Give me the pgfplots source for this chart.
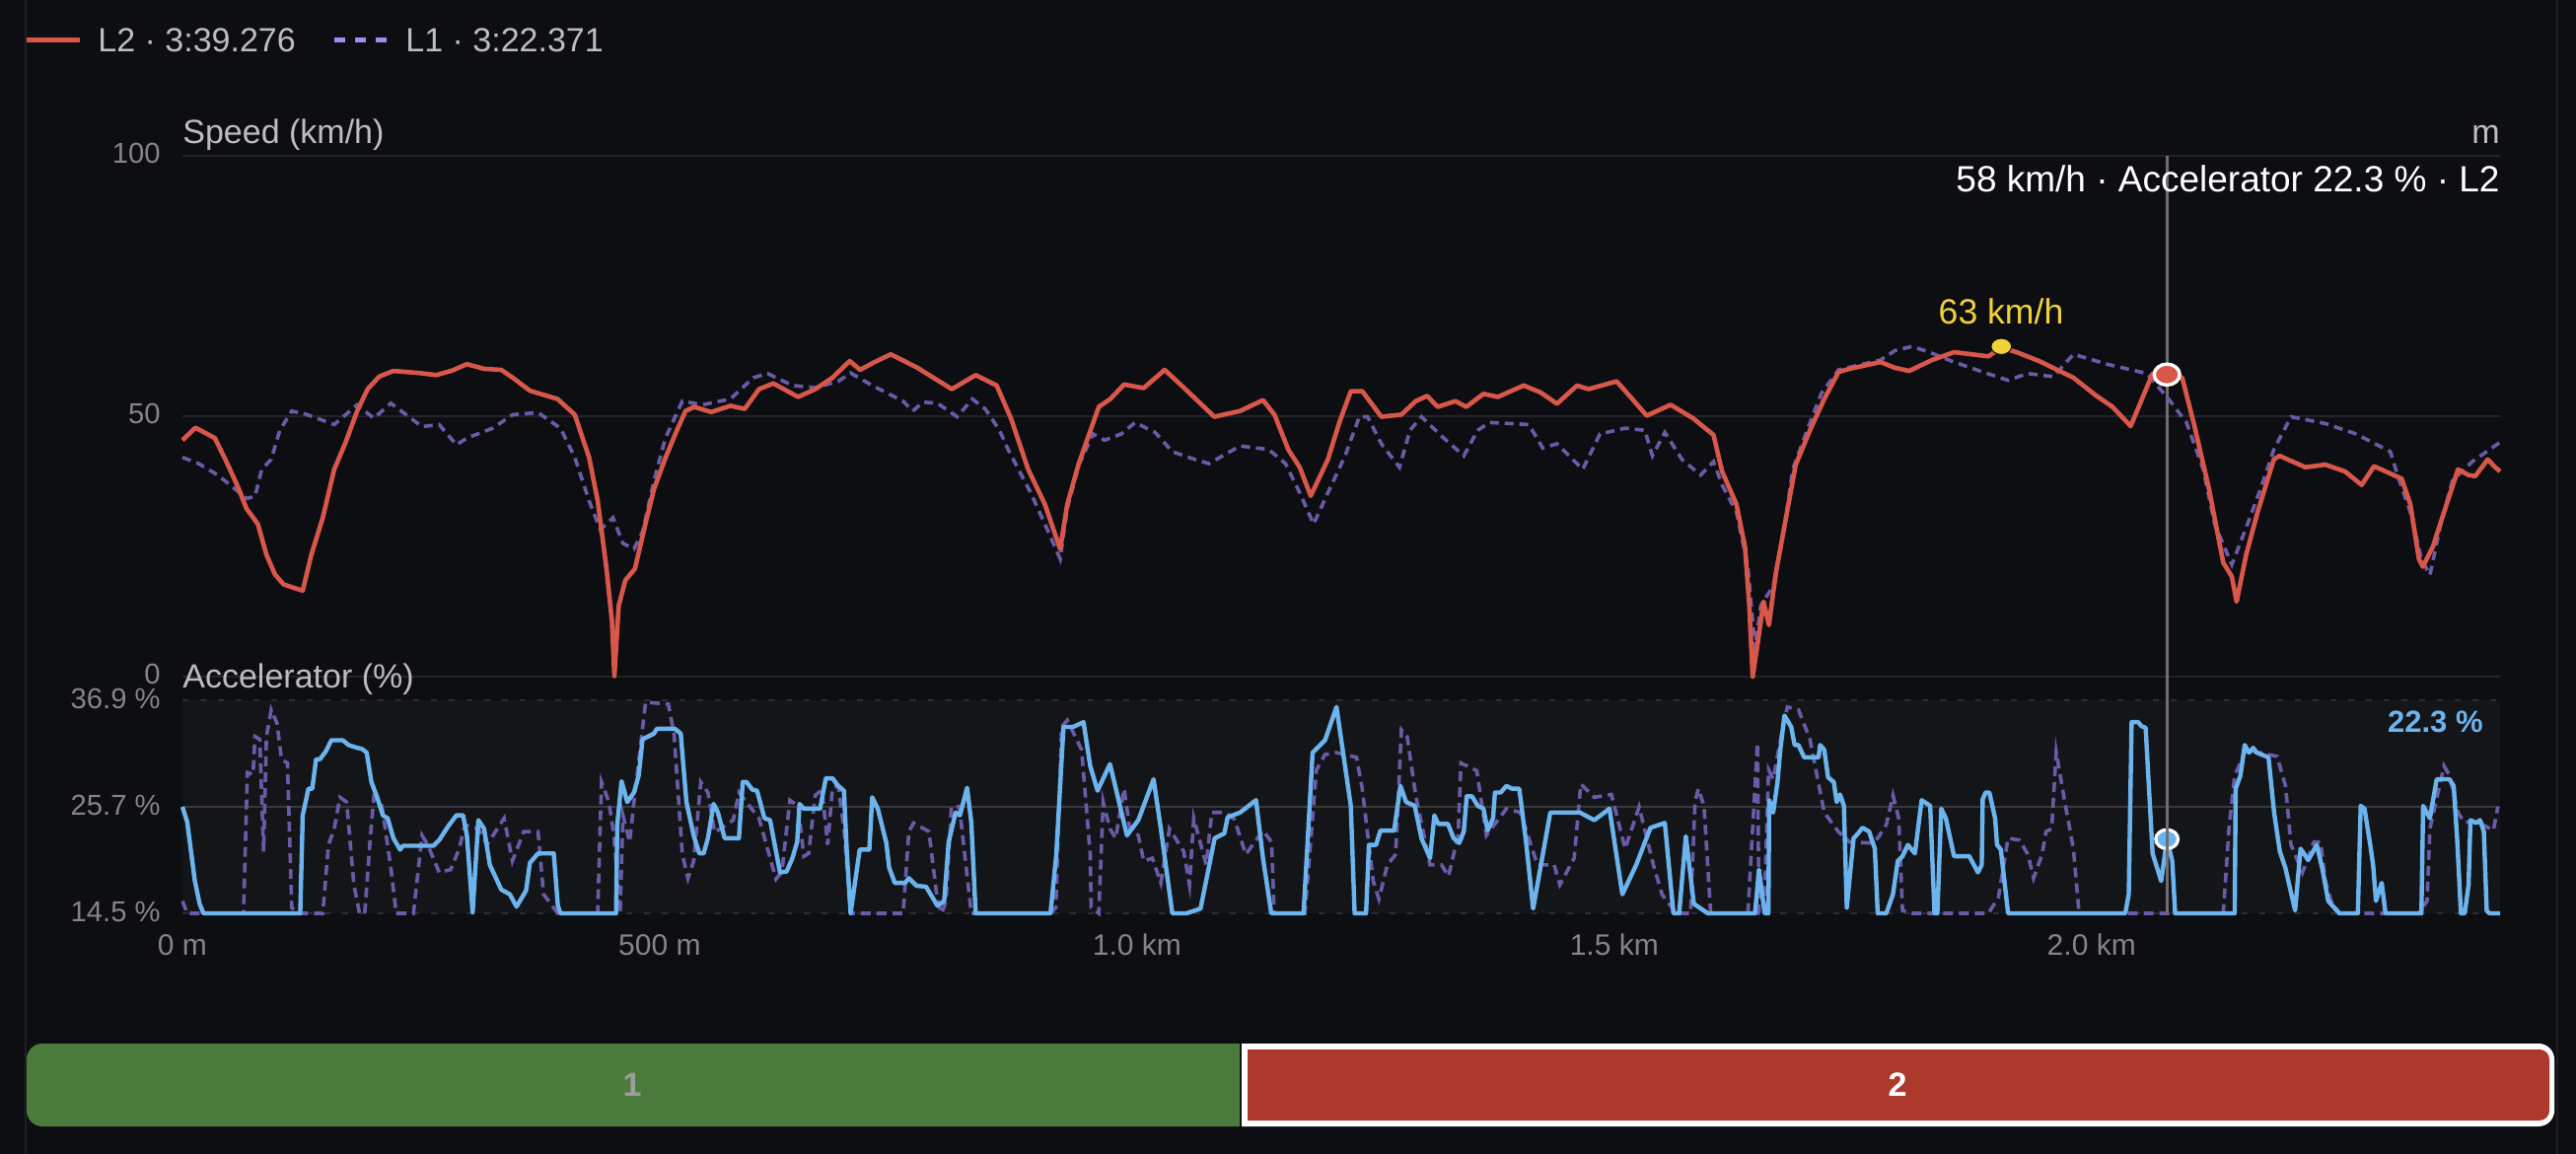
\documentclass[border=0pt]{standalone}
\usepackage{pgfplots}
\pgfplotsset{compat=1.18}
\usepackage{fontspec}
\setmainfont{Liberation Sans}
\definecolor{bgc}{HTML}{0D0E11}
\definecolor{bandc}{HTML}{141518}
\definecolor{gridc}{HTML}{232427}
\definecolor{midc}{HTML}{3A3A3C}
\definecolor{dashc}{HTML}{2C2D30}
\definecolor{panelc}{HTML}{1E1F24}
\definecolor{hoverc}{HTML}{6E6E70}
\definecolor{redc}{HTML}{D9574A}
\definecolor{purc}{HTML}{6A5AA8}
\definecolor{purl}{HTML}{A08DF0}
\definecolor{bluec}{HTML}{6CB4EE}
\definecolor{yelc}{HTML}{F2D13A}
\definecolor{tickc}{HTML}{858587}
\definecolor{labc}{HTML}{BDBDBF}
\definecolor{legc}{HTML}{BDBDC8}
\definecolor{greenb}{HTML}{4A7A3C}
\definecolor{redb}{HTML}{AD392C}
\definecolor{onec}{HTML}{9A9F9A}
\newcommand{\fs}[1]{\fontsize{#1}{#1}\selectfont}
\pgfplotsset{base/.style={
  scale only axis, width=1175pt, xmin=0, xmax=2428, clip=false,
  axis line style={draw=none}, major tick length=0pt,
  y tick label style={font=\fs{14.6}, color=tickc, anchor=east, inner sep=0pt, xshift=-11pt, text height=9.6pt, text depth=0pt},
  x tick label style={font=\fs{15}, color=tickc, inner sep=0pt, anchor=center, yshift=-16pt},
}}
\begin{document}
\begin{tikzpicture}[x=0.5pt,y=-0.5pt]
\useasboundingbox (0,0) rectangle (2612,1170);
\fill[bgc] (0,0) rectangle (2612,1170);
\draw[panelc,line width=1pt] (26,0) -- (26,1170);
\draw[panelc,line width=1pt] (2593,0) -- (2593,1170);
% legend
\draw[redc,line width=2.5pt] (27,41) -- (81,41);
\node[anchor=base west,inner sep=0,font=\fs{17},text=legc] at (99,53) {L2 · 3:39.276};
\draw[purl,line width=2.5pt,dash pattern=on 5.5pt off 5pt] (339,41) -- (393,41);
\node[anchor=base west,inner sep=0,font=\fs{17},text=legc] at (411,53) {L1 · 3:22.371};
% lower axis
\begin{axis}[base, at={(92.5pt,-463pt)}, anchor=south west, height=108pt,
  ymin=14.5, ymax=36.9, ytick={14.5,25.7,36.9}, yticklabels={14.5 \%,25.7 \%,36.9 \%},
  xtick={0,500,1000,1500,2000}, xticklabels={0 m,500 m,1.0 km,1.5 km,2.0 km},
  y tick label style={yshift=0.8pt},
  axis background/.style={fill=bandc}]
\addplot[midc,line width=1.2pt,forget plot] coordinates {(0,25.7)(2428,25.7)};
\addplot[dashc,line width=1pt,dash pattern=on 3pt off 6pt,forget plot] coordinates {(0,14.5)(2428,14.5)};
\addplot[dashc,line width=1pt,dash pattern=on 3pt off 6pt,forget plot] coordinates {(0,36.9)(2428,36.9)};
% L1 accelerator
\addplot[purc,line width=1.8pt,dash pattern=on 5pt off 3pt] coordinates {
(0,15.8)(5,14.5)(64,14.5)(68,29.3)(74,29.1)(76,33.1)(81,32.8)(85,21)(88,33.1)(93,35.9)(99,34.5)(103.8,30.7)(110,30.3)(114.5,15.1)(120.5,14.5)(147,14.5)(153,21.7)(159,23.4)(165,26.7)(172,26.2)(179.6,17.5)(185.5,14.5)(191,14.5)(197,22.7)(200.5,26.7)(209,25.8)(218.3,19.3)(224,14.5)(242,14.5)(251,22.7)(257,21.7)(269,18.8)(281,19.1)(290,21.3)(296,23.8)(310,23.4)(319,21.7)(337,24.5)(345.7,20)(357.6,23.1)(372.5,23.1)(378.4,16.5)(393.3,14.5)(435,14.5)(439,28.3)(446.8,26.2)(452,22.7)(458.5,14.5)(461.5,24.8)(468.5,22)(473,26.2)(485.2,36.7)(509,36.5)(515,33.4)(523.7,20.7)(529.6,18.2)(535.6,20)(543,28.3)(550.5,27.2)(557.6,23)(577,24.3)(583,27.2)(604,24.5)(621.8,18.1)(628,18.9)(636.4,26.4)(645,25.8)(651,20.5)(656,20.8)(663,26.9)(670,27.5)(676,21.7)(681,27.7)(687,27.9)(693,23.4)(700,14.5)(755,14.5)(761,23.1)(766,24)(782,23.1)(791,15.8)(795.5,14.5)(800,15.8)(805.6,25.7)(814,25.7)(826.4,14.5)(909.4,14.5)(915,15.1)(921,34.1)(927,34.8)(942,31.7)(951,20.7)(952,15.1)(960,14.5)(964.6,26.2)(971.7,23.4)(977.6,22.4)(986.5,27.6)(992.5,23.4)(1001.4,22.7)(1007,20)(1016,20.3)(1025,17.7)(1034,23.4)(1049,21)(1055,17.5)(1059.5,24.5)(1072.5,19.6)(1078.4,25.1)(1093,25.1)(1102,24.4)(1114,20.7)(1132,23.2)(1141,22)(1143.7,14.5)(1176,14.5)(1188,29.6)(1197,31.2)(1209,31.4)(1230,30.9)(1236,27.6)(1247.5,17.9)(1253.4,16)(1262.3,19.6)(1271,20.7)(1277,33.8)(1283,33.1)(1292,26.9)(1307,19.6)(1319,19.6)(1326.4,18.4)(1336.4,22.7)(1339.4,30.3)(1356,29.5)(1366,22.7)(1387,25.5)(1401.7,25.1)(1419.5,19.6)(1437,19.6)(1443,17.5)(1458,20.3)(1465,28.1)(1479,26.7)(1497,27)(1511.4,21.3)(1526,25.7)(1541,19.6)(1550,16.5)(1565,14.5)(1580,14.5)(1584.6,26.2)(1588,27.6)(1594,25.8)(1601,14.5)(1640,14.5)(1650,32.4)(1651.6,14.5)(1657,14.5)(1661.7,29.6)(1666.5,28.6)(1675.4,33.4)(1681.3,36.2)(1693,35.9)(1705,32.8)(1720,25.1)(1734.7,23.1)(1746.5,22)(1767,21.9)(1776,22.4)(1785,23.8)(1792,26.9)(1798,24.5)(1802,14.8)(1812,14.5)(1892,14.5)(1902.5,16.2)(1912.6,22.4)(1924.5,22.2)(1933.4,20.7)(1939.3,18.2)(1948.2,20.7)(1952.4,23.1)(1958.3,23.4)(1963,31.5)(1972,26.2)(1981,21.3)(1987,14.5)(2138,14.5)(2144,23.4)(2150,29)(2162,31.7)(2194.4,31)(2203.2,27.9)(2209,21.7)(2221,18.8)(2233,22)(2240,22)(2245,17.9)(2251,15.8)(2259.6,14.5)(2342.6,14.5)(2351.5,15.8)(2354.5,23.4)(2369.3,30)(2375,29)(2384,25.1)(2390,24.1)(2405,24.1)(2421,23.2)(2425.7,25.7)};
% L2 accelerator
\addplot[bluec,line width=2.2pt,line join=round] coordinates {
(0,25.7)(5,24.1)(13,17.9)(18,15.5)(22,14.5)(123.4,14.5)(126,24.8)(132,27.6)(136,27.6)(140,30.7)(144,30.7)(150,31.5)(156,32.7)(168,32.7)(174,32.2)(183,31.9)(188,31.8)(193,31.4)(198,28.3)(204,26.7)(210,24.8)(215,24.5)(221,22.4)(228,21.2)(231,21.6)(263,21.6)(269,22.2)(278,23.6)(287,24.8)(294,24.8)(298,22.7)(304,14.6)(310,24.3)(316,23.4)(322,19.6)(334,17)(343,16.5)(350,15.2)(360,16.9)(364,19.8)(372.5,20.8)(389,20.8)(393.3,15.3)(396,14.5)(454.3,14.5)(455.5,23.8)(460,28.4)(466,26.2)(473,27.2)(478,29)(482,32.8)(494,33.4)(497,33.9)(516,33.9)(522,33.4)(528,26.2)(535.5,22.7)(541.5,20.8)(546,20.8)(550.5,22.4)(556.5,26)(561,25.1)(568,22.4)(583,22.4)(587,28.3)(591,28.3)(597,27.5)(602,27.4)(609.7,24.5)(615.6,24.3)(626,18.8)(633,18.9)(639,20.3)(644,22)(646.5,26)(651,25.5)(668,25.5)(674,28.7)(681,28.7)(687,27.9)(693,27.4)(696,21)(700,14.5)(709.5,21.2)(719.6,21.2)(722.6,26.7)(728.5,25.5)(737.4,21.9)(740.4,19.3)(746.3,17.7)(757,17.7)(761,18.2)(769,17.4)(779,17.3)(791,15.3)(798,15.8)(802.7,22)(810,25.1)(814.5,24.8)(822,27.7)(826.4,24.1)(831,14.5)(909.4,14.5)(915.4,20.6)(923,34.1)(933,34.1)(944,34.6)(951,30)(958.7,27.4)(971.7,30.2)(989.5,22.7)(1001.4,24.3)(1017.4,28.6)(1025,23.4)(1037,14.5)(1052,14.5)(1066.6,15)(1081.4,22.4)(1091.5,22.9)(1095,24.6)(1108,25.1)(1124.7,26.4)(1132,20.3)(1140.7,14.5)(1174.5,14.5)(1184,31.4)(1197,32.7)(1209,36.2)(1224,25.8)(1228,14.5)(1240,14.5)(1243,21.7)(1250.5,21.7)(1255,23.2)(1269.4,23.2)(1276,27.9)(1282,26.2)(1291,25.8)(1298,22.4)(1307,20.3)(1311.6,24.8)(1315.7,23.9)(1325.8,23.9)(1331.7,22.4)(1337.6,21.9)(1342.4,23.1)(1345.4,26.8)(1351,26.8)(1357,25.8)(1363,25.5)(1367.3,23.2)(1373,24.5)(1375,27.2)(1381,27.2)(1387,27.9)(1393,27.6)(1400.5,27.6)(1407.6,22)(1415,15)(1433,25.1)(1464,25.1)(1479,24.3)(1495,25.5)(1508.5,16.5)(1523,19.6)(1538,23.5)(1553,24)(1562,14.5)(1568,14.5)(1575,22.6)(1583.4,15.5)(1598,14.5)(1647.5,14.5)(1651.6,19.1)(1657.6,14.5)(1661.5,14.5)(1662.3,26.4)(1666.5,25.1)(1671,28.3)(1674,31.7)(1678.3,35.3)(1685.4,34.1)(1689,32.2)(1693,32.2)(1699,30.9)(1714,30.9)(1715.7,32.2)(1720,31.7)(1724,28.8)(1730,28.3)(1733,26.2)(1736.5,27)(1740.6,25.8)(1743.6,15.1)(1750.7,22.4)(1755.4,22.9)(1760,23.5)(1767,23.1)(1773,21.3)(1776,14.5)(1785,14.5)(1792,16.5)(1797,20)(1802,20.5)(1807.6,21.7)(1815,20.8)(1822,26.4)(1831,25.8)(1835.5,14.5)(1838.5,14.5)(1842.6,25.5)(1847.4,24.5)(1856,20.5)(1872,20.5)(1881,18.8)(1885,19.6)(1886,26.5)(1889,27.2)(1893,27.2)(1899,24.5)(1901,21.7)(1905,21.2)(1912.6,14.5)(2035.4,14.5)(2039,16.5)(2042,34.6)(2049,34.6)(2052,34.2)(2056.7,34)(2061,26.2)(2064,20.8)(2073,17.9)(2079,22.3)(2084.6,20)(2087.6,14.5)(2150,14.5)(2151,27.6)(2156,29)(2160.5,32.2)(2165,31.4)(2169.4,31.9)(2173,31.4)(2185.4,30.9)(2191.4,25)(2197.3,21)(2203,19.3)(2213.3,14.8)(2219,21.3)(2227,20.1)(2236,21.7)(2242,19.1)(2248,15.8)(2259.6,14.5)(2279,14.5)(2282,25.8)(2286,25.5)(2292,21.7)(2295,19.6)(2298,15.8)(2304,17.7)(2308,14.5)(2345.6,14.5)(2347.4,25.8)(2354.5,24.5)(2361.6,28.6)(2375,28.6)(2379.4,27.9)(2383,22.4)(2387,14.5)(2391,14.5)(2395,17.5)(2397,24.3)(2403,24)(2407,24.3)(2411,23.1)(2414,14.8)(2417,14.5)(2428,14.5)};
\addplot[only marks,mark=*,mark size=4.8pt,mark options={draw=white,line width=1.6pt,fill=bluec,xscale=1.18}] coordinates {(2079,22.3)};
\end{axis}
% upper axis
\begin{axis}[base, at={(92.5pt,-343pt)}, anchor=south west, height=264pt,
  ymin=0, ymax=100, ytick={0,50,100}, yticklabels={0,50,100},
  xtick=\empty, ymajorgrids, grid style={gridc,line width=1pt},
  y tick label style={yshift=1pt}]
\addplot[hoverc,line width=1.3pt,forget plot] coordinates {(2079,100)(2079,-45.45)};
\addplot[purc,line width=1.8pt,dash pattern=on 4.5pt off 3pt] coordinates {
(0,42.1)(17,40.9)(37,38.7)(52,36.5)(67,34.2)(76,34.6)(83,39.8)(93,41.7)(102,47.3)(114.5,51)(129,50.4)(159,48.4)(183,52.2)(200.5,49.6)(218.3,52.5)(251,48)(269,48.4)(287,44.5)(298,45.8)(325,47.7)(346,50.3)(372.5,50.7)(396,47.7)(411,42.1)(426,33.8)(437.7,28.2)(451,30.5)(461.5,25.6)(473,24.5)(482,27.8)(494,37.6)(506,45.8)(523.7,52.9)(544.5,52.2)(574,53.3)(598,57.4)(613,58.2)(639,55.9)(663,55.5)(687,56.7)(700,58.3)(722.6,55.9)(755,52.9)(765,51)(776,52.7)(791,52.5)(811.5,49.9)(827.6,53.3)(841,51.4)(856,47.3)(865,43.6)(888.7,35.3)(903.5,29.3)(919.5,22.6)(927,32.3)(939,40.6)(954,46.6)(966,45.4)(983.6,46.6)(998,48.8)(1019,46.9)(1037,43.2)(1060.7,41.7)(1075.5,40.9)(1108,44.3)(1138,43.6)(1155.6,40.9)(1170.5,35.3)(1185,29.3)(1200,35.3)(1218,42.4)(1233,49.9)(1241.6,49.9)(1256,44.7)(1275,40.2)(1286,47.3)(1298,49.9)(1319,46.2)(1342.4,42.4)(1357,47.3)(1369,48.8)(1410.6,48.4)(1425,43.9)(1440,44.7)(1467,39.8)(1485,46.6)(1511.4,47.7)(1532,47.3)(1540,42.4)(1553,46.9)(1571,41.7)(1590.5,38.7)(1604,41.3)(1613,36.8)(1628,31.6)(1640,21.1)(1647.5,5.4)(1653.4,13.6)(1666.5,17.4)(1678.3,28.6)(1687,39.8)(1702,47.3)(1717,54.4)(1735,58.9)(1779,60.8)(1794,62.6)(1812,63.4)(1830,62.3)(1856,60.4)(1886,58.5)(1912.6,56.9)(1933,58.2)(1960,57.6)(1981,61.9)(2016,60)(2058,58.2)(2079,53.7)(2099.5,48.8)(2117,39.8)(2129,29.3)(2147,21.5)(2162,28.6)(2177,36)(2191,43.6)(2209,49.9)(2245,48.6)(2277,46.6)(2313,43.2)(2322,37.9)(2334,31.6)(2345.6,22.6)(2354.5,19.5)(2366,29.3)(2378,37.6)(2399,41.3)(2428,45)};
\addplot[redc,line width=2.3pt,line join=round] coordinates {
(0,45.4)(13.6,47.8)(34,45.8)(46,41.3)(58,36.5)(67,32.3)(79,29.3)(88,23.4)(97,19.6)(106,17.7)(126,16.5)(135,23.4)(147,30.5)(159,39.8)(171,45)(183,51)(194,55.2)(206,57.6)(221,58.7)(248,58.3)(266,57.9)(283,58.8)(298,60)(316,59.1)(334,58.9)(346,57.4)(364,54.9)(393,53.3)(411,50.3)(426,42.1)(435,33.8)(444,21.1)(450,10.6)(452.5,0.1)(457,13.6)(464,18.5)(474,20.7)(485,29.3)(494,36)(506,42)(518,47.3)(527,51)(536,51.8)(554,50.8)(574,52)(589,51.4)(604,55.2)(619,56.3)(645,53.7)(663,55.2)(681,57.4)(699,60.6)(710,58.9)(723,60.2)(742,61.9)(770,59.3)(806,55.2)(831,57.9)(853,55.9)(868,49.6)(886,39.8)(903.5,33.1)(919.5,24.5)(927,33.1)(939,40.9)(960,51.8)(972,53.3)(986.5,56.1)(1007,55.4)(1029,58.9)(1049,55.5)(1081,49.9)(1108,51)(1132,53.1)(1144,50.3)(1158.5,43.6)(1170.5,40.2)(1182,34.7)(1200,41.7)(1212,48.8)(1224,54.8)(1236,54.8)(1256,49.9)(1277,50.3)(1292,52.9)(1304,53.9)(1315,51.8)(1333.5,52.9)(1345,51.8)(1363,54.3)(1378,53.7)(1405,55.9)(1422.5,54.6)(1440,52.4)(1461,55.9)(1473,55.2)(1502.5,56.7)(1517,53.7)(1534,50.1)(1559,52.2)(1582.6,49.6)(1604,46.4)(1613,39.4)(1628,33.1)(1637,24.9)(1641.5,13.6)(1645,0)(1650,6.1)(1656.4,14.4)(1662,9.9)(1669.4,20)(1681,31.6)(1690,40.6)(1705,47.3)(1720,53.3)(1735,58.5)(1746.5,59.1)(1779,60.4)(1794,59.3)(1809,58.7)(1833,60.8)(1856,62.3)(1892,61.5)(1905.5,63.2)(1921.5,62.3)(1945,60.6)(1981,57.4)(2004.5,54)(2022,51.8)(2041,48.1)(2064,58.2)(2079,58)(2095,57.4)(2108,48)(2123,36.1)(2138,21.9)(2147,19.2)(2152,14.4)(2162,23.4)(2174,31.6)(2191,41.7)(2197,42.4)(2224,40.2)(2245,40.7)(2265.5,39.4)(2283,36.8)(2296,40.4)(2325,38)(2334,33.1)(2343,22.6)(2347,21.1)(2357.5,24.9)(2372,33.1)(2384,39.8)(2395,38.7)(2402,38.5)(2415,41.7)(2423,40.2)(2428,39.4)};
\addplot[only marks,mark=*,mark size=4.1pt,mark options={draw=bgc,line width=0.5pt,fill=yelc,xscale=1.27}] coordinates {(1905.5,63.4)};
\addplot[only marks,mark=*,mark size=5.3pt,mark options={draw=white,line width=1.7pt,fill=redc,xscale=1.22}] coordinates {(2079,58)};
\end{axis}
% texts
\node[anchor=base west,inner sep=0,font=\fs{17},text=labc] at (185,146) {Speed (km/h)};
\node[anchor=base east,inner sep=0,font=\fs{17},text=labc] at (2535,146) {m};
\node[anchor=base east,inner sep=0,font=\fs{18.5},text=white] at (2535,195) {58 km/h · Accelerator 22.3 \% · L2};
\node[anchor=base,inner sep=0,font=\fs{17.8},text=yelc] at (2029,329) {63 km/h};
\node[anchor=base west,inner sep=0,font=\fs{17},text=labc] at (185,697) {Accelerator (\%)};
\node[anchor=base east,inner sep=0,font=\fs{15.5}\bfseries,text=bluec] at (2518,742) {22.3 \%};
% lap bar
\fill[greenb] (1257,1058) [rounded corners=8pt] -- (27,1058) -- (27,1142) [sharp corners] -- (1257,1142) -- cycle;
\fill[white] (1259,1058) [rounded corners=8pt] -- (2590,1058) -- (2590,1142) [sharp corners] -- (1259,1142) -- cycle;
\fill[redb] (1265,1064) [rounded corners=5pt] -- (2585,1064) -- (2585,1136) [sharp corners] -- (1265,1136) -- cycle;
\node[inner sep=0,font=\fs{17}\bfseries,text=onec] at (641,1100) {1};
\node[inner sep=0,font=\fs{17}\bfseries,text=white] at (1924,1100) {2};
\end{tikzpicture}
\end{document}
